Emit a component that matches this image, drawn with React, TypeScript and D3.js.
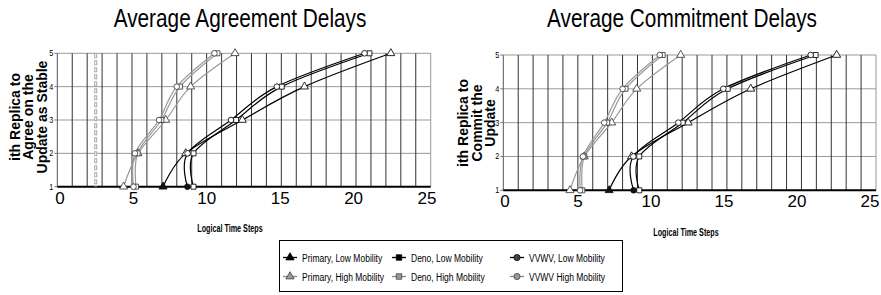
import React, { useEffect, useRef } from "react";
import * as d3 from "d3";

// replica index (y) and x tick values
const replicaLevels = [1, 2, 3, 4, 5];
const xTickValues = [0, 5, 10, 15, 20, 25];
const gridValues = d3.range(1, 25);

// Average Agreement Delays - logical time step at which the ith replica agrees
const agreePrimaryLow = [7.08, 8.6, 12.39, 16.55, 22.33];
const agreeDenoLow = [9.12, 9.12, 11.97, 15.03, 20.9];
const agreeVvwvLow = [8.71, 8.72, 11.63, 14.7, 20.57];
const agreePrimaryHigh = [4.44, 5.4, 7.26, 8.93, 11.9];
const agreeDenoHigh = [5.27, 5.38, 6.97, 8.22, 10.72];
const agreeVvwvHigh = [5.1, 5.2, 6.81, 8.0, 10.52];
const agreeDottedAt = 2.57;

// Average Commitment Delays
const commitPrimaryLow = [7.1, 8.6, 12.4, 16.6, 22.36];
const commitDenoLow = [9.12, 9.12, 12.03, 15.05, 20.95];
const commitVvwvLow = [8.74, 8.72, 11.74, 14.76, 20.62];
const commitPrimaryHigh = [4.47, 5.43, 7.27, 8.95, 11.9];
const commitDenoHigh = [5.3, 5.43, 6.97, 8.2, 10.69];
const commitVvwvHigh = [5.15, 5.34, 6.77, 8.0, 10.5];

const legendNames = [
  ["Primary, Low Mobility", "Primary, High Mobility"],
  ["Deno, Low Mobility", "Deno, High Mobility"],
  ["VVWV, Low Mobility", "VVWV High Mobility"],
];

const shapes = [d3.symbolTriangle, d3.symbolSquare, d3.symbolCircle];
const shapeSize = [28, 25, 25];
const SANS = "'Liberation Sans', Arial, sans-serif";

// narrow text: squeeze the normal sans horizontally
function narrowText(g: any, x: number, y: number, txt: any, size: number, anchor: string, sx = 0.8, bold = false) {
  return g.append("text")
    .attr("transform", `translate(${x}, ${y}) scale(${sx}, 1)`)
    .attr("text-anchor", anchor)
    .attr("font-family", SANS).attr("font-size", size)
    .attr("font-weight", bold ? "bold" : "normal")
    .text(txt);
}

function drawChart(svg: any, cfg: any) {
  const x = d3.scaleLinear().domain([0, 25]).range([cfg.left, cfg.right]);
  const y = d3.scaleLinear().domain([1, 5]).range([cfg.bottom, cfg.top]);
  // the tick labels sit a little inside the axis ends
  const xl = d3.scaleLinear().domain([0, 25]).range(cfg.labelRange);
  const g = svg.append("g");

  // title
  narrowText(g, cfg.titleX, cfg.titleY, cfg.title, 26, "middle", 0.8);

  // horizontal grid
  g.selectAll(".hgrid").data([2, 3, 4, 5]).join("line")
    .attr("x1", cfg.left).attr("x2", cfg.right)
    .attr("y1", (d: number) => y(d)).attr("y2", (d: number) => y(d))
    .attr("stroke", "#999").attr("stroke-width", 1);

  // vertical grid
  g.selectAll(".vgrid").data(gridValues).join("line")
    .attr("x1", (d: number) => x(d)).attr("x2", (d: number) => x(d))
    .attr("y1", cfg.top).attr("y2", cfg.bottom)
    .attr("stroke", "#333").attr("stroke-width", 1);

  g.append("line").attr("x1", cfg.right).attr("x2", cfg.right)
    .attr("y1", cfg.top).attr("y2", cfg.bottom).attr("stroke", "#999");

  // left axis
  g.append("line").attr("x1", cfg.left).attr("x2", cfg.left)
    .attr("y1", cfg.top).attr("y2", cfg.bottom).attr("stroke", "#555");
  g.selectAll(".ytick").data(replicaLevels).join("line")
    .attr("x1", cfg.left - 3).attr("x2", cfg.left)
    .attr("y1", (d: number) => y(d)).attr("y2", (d: number) => y(d))
    .attr("stroke", "#777");
  replicaLevels.forEach((d) => {
    narrowText(g, cfg.left - 4, y(d) + 3, d, 9, "end", 0.8);
  });

  // bottom axis
  g.append("line").attr("x1", cfg.left).attr("x2", cfg.right)
    .attr("y1", cfg.bottom).attr("y2", cfg.bottom)
    .attr("stroke", "#000").attr("stroke-width", 2);
  g.selectAll(".xtick").data(xTickValues).join("text")
    .attr("x", (d: number) => xl(d)).attr("y", cfg.bottom + 17)
    .attr("text-anchor", "middle")
    .attr("font-family", SANS).attr("font-size", 17)
    .text((d: number) => d);

  narrowText(g, cfg.xTitleX, cfg.xTitleY, "Logical Time Steps", 10, "middle", 0.72, true);

  // y axis title, three rotated lines
  cfg.yLines.forEach((line: string, i: number) => {
    g.append("text")
      .attr("transform", `translate(${cfg.yLineX[i]}, ${cfg.yTitleY}) rotate(-90)`)
      .attr("text-anchor", "middle").attr("dy", "0.35em")
      .attr("font-family", SANS).attr("font-size", 14).attr("font-weight", "bold")
      .text(line);
  });

  // dotted marker line (chain of little hollow dashes)
  if (cfg.dottedAt != null) {
    const dx = x(cfg.dottedAt);
    g.append("line").attr("x1", dx).attr("x2", dx).attr("y1", cfg.top).attr("y2", cfg.bottom)
      .attr("stroke", "#aaa").attr("stroke-width", 3).attr("stroke-dasharray", "5,2");
    g.append("line").attr("x1", dx).attr("x2", dx).attr("y1", cfg.top + 1).attr("y2", cfg.bottom)
      .attr("stroke", "#fff").attr("stroke-width", 1).attr("stroke-dasharray", "3,4");
  }

  const line = d3.line<number>()
    .x((d) => x(d))
    .y((d, i) => y(replicaLevels[i]))
    .curve(d3.curveCardinal.tension(0));

  // draw high mobility first (gray), then low (black)
  const order = [3, 4, 5, 0, 1, 2];
  order.forEach((k) => {
    const s = cfg.series[k];
    const low = k < 3;
    g.append("path").attr("d", line(s))
      .attr("fill", "none")
      .attr("stroke", low ? "#000" : "#999")
      .attr("stroke-width", 1.2);
  });
  order.forEach((k) => {
    const s = cfg.series[k];
    const low = k < 3;
    const shape = k % 3;
    g.selectAll(null).data(s).join("path")
      .attr("transform", (d: number, i: number) => `translate(${x(d)}, ${y(replicaLevels[i])})`)
      .attr("d", d3.symbol().type(shapes[shape]).size(shapeSize[shape]))
      .attr("fill", (d: number, i: number) => (low && i === 0 && shape !== 1 ? "#111" : "#fff"))
      .attr("stroke", low ? "#111" : "#444")
      .attr("stroke-width", 0.9);
  });
}

function drawLegend(svg: any) {
  const lg = svg.append("g");
  lg.append("rect").attr("x", 279.5).attr("y", 240.5).attr("width", 343).attr("height", 51)
    .attr("fill", "#fff").attr("stroke", "#000").attr("stroke-width", 1);
  const colX = [290, 399, 517];
  const rowY = [257.5, 276.5];
  legendNames.forEach((pair, c) => {
    pair.forEach((name, r) => {
      const cx = colX[c];
      const cy = rowY[r];
      const low = r === 0;
      lg.append("line").attr("x1", cx - 7).attr("x2", cx + 7).attr("y1", cy).attr("y2", cy)
        .attr("stroke", low ? "#000" : "#888").attr("stroke-width", 1.3);
      lg.append("path").attr("transform", `translate(${cx}, ${cy})`)
        .attr("d", d3.symbol().type(shapes[c]).size(30))
        .attr("fill", low ? (c === 2 ? "#444" : "#000") : "#999")
        .attr("stroke", low ? "#000" : "#444").attr("stroke-width", 0.8);
      narrowText(lg, cx + 12, cy + 4, name, 11.5, "start", 0.74);
    });
  });
}

export default function App() {
  const ref = useRef<SVGSVGElement>(null);

  useEffect(() => {
    document.body.style.margin = "0";
    const svg = d3.select(ref.current);
    svg.selectAll("*").remove();

    drawChart(svg, {
      left: 57.3, right: 430.7, top: 53.3, bottom: 186.7,
      labelRange: [60, 427],
      title: "Average Agreement Delays", titleX: 240, titleY: 27,
      xTitleX: 230, xTitleY: 232,
      yLines: ["ith Replica to", "Agree on the", "Update as Stable"],
      yLineX: [15, 28.5, 42], yTitleY: 117,
      dottedAt: agreeDottedAt,
      series: [agreePrimaryLow, agreeDenoLow, agreeVvwvLow, agreePrimaryHigh, agreeDenoHigh, agreeVvwvHigh],
    });

    drawChart(svg, {
      left: 503.3, right: 876, top: 55, bottom: 190.3,
      labelRange: [505, 870],
      title: "Average Commitment Delays", titleX: 682, titleY: 27,
      xTitleX: 686, xTitleY: 236,
      yLines: ["ith Replica to", "Commit the", "Update"],
      yLineX: [463.5, 477, 490.5], yTitleY: 123,
      dottedAt: null,
      series: [commitPrimaryLow, commitDenoLow, commitVvwvLow, commitPrimaryHigh, commitDenoHigh, commitVvwvHigh],
    });

    drawLegend(svg);
  }, []);

  return <svg ref={ref} width={881} height={295} style={{ display: "block", background: "#fff" }} />;
}
